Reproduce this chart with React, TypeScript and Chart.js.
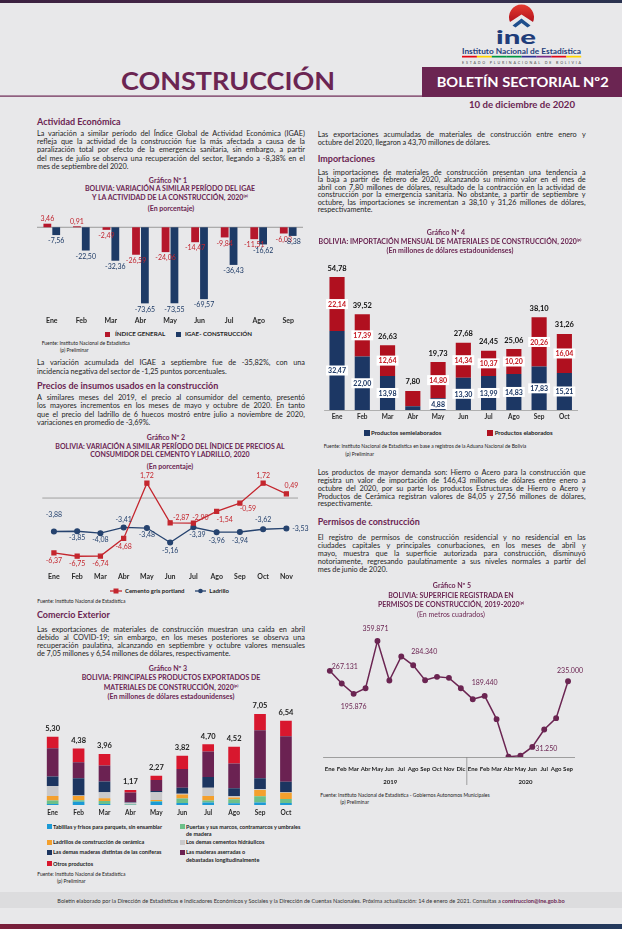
import React, { useEffect, useRef } from 'react';
import { Chart, registerables } from 'chart.js';

Chart.register(...registerables);

const FONT = 'Lato, "Open Sans", "DejaVu Sans", sans-serif';
Chart.defaults.font.family = FONT;

const PURPLE = '#6b2552';
const TEXT = '#1e1e1e';

// ---------------- DATA ----------------
// Gráfico 1
const igaeMonths = ['Ene', 'Feb', 'Mar', 'Abr', 'May', 'Jun', 'Jul', 'Ago', 'Sep'];
const indiceGeneral = [3.46, 0.91, -2.49, -26.59, -24.06, -14.47, -9.84, -11.51, -6.03];
const igaeConstruccion = [-7.56, -22.5, -32.36, -73.65, -73.55, -69.57, -36.43, -16.62, -8.38];

// Gráfico 2
const precioMonths = ['Ene', 'Feb', 'Mar', 'Abr', 'May', 'Jun', 'Jul', 'Ago', 'Sep', 'Oct', 'Nov'];
const cemento = [-6.37, -6.75, -6.74, -4.68, 1.72, -2.87, -2.9, -1.54, -0.59, 1.72, 0.49];
const ladrillo = [-3.88, -3.85, -4.08, -3.41, -3.48, -5.16, -3.39, -3.96, -3.94, -3.62, -3.53];

// Gráfico 3
const expMonths = ['Ene', 'Feb', 'Mar', 'Abr', 'May', 'Jun', 'Jul', 'Ago', 'Sep', 'Oct'];
const expTablillas = [0.08, 0.26, 0.08, 0.02, 0.26, 0.15, 0.2, 0.13, 0.2, 0.15];
const expPuertas = [0.26, 0.1, 0.23, 0.03, 0.05, 0.36, 0.15, 0.31, 0.47, 0.31];
const expLadrillos = [0.36, 0.34, 0.21, 0.02, 0.08, 0.31, 0.34, 0.15, 0.49, 0.49];
const expCementos = [0.78, 0.03, 0.47, 0.1, 0.6, 0.05, 0.65, 0.08, 0.08, 0.03];
const expMaderasDemas = [0.72, 1.35, 0.83, 0.05, 0.1, 0.47, 0.83, 0.62, 0.83, 0.83];
const expMaderasAserradas = [2.2, 1.24, 1.24, 0.75, 0.85, 1.45, 1.97, 1.92, 3.73, 3.51];
const expOtros = [0.9, 1.06, 0.9, 0.2, 0.33, 1.03, 0.56, 1.31, 1.25, 1.22];
const expTotals = [5.3, 4.38, 3.96, 1.17, 2.27, 3.82, 4.7, 4.52, 7.05, 6.54];

// Gráfico 4
const impMonths = ['Ene', 'Feb', 'Mar', 'Abr', 'May', 'Jun', 'Jul', 'Ago', 'Sep', 'Oct'];
const impSemielaborados = [32.47, 22.0, 13.98, 1.5, 4.88, 13.3, 13.99, 14.83, 17.83, 15.21];
const impElaborados = [22.14, 17.39, 12.64, 6.3, 14.8, 14.34, 10.37, 10.2, 20.26, 16.04];
const impTotals = [54.78, 39.52, 26.63, 7.8, 19.73, 27.68, 24.45, 25.06, 38.1, 31.26];

// Gráfico 5
const permisoMonths = ['Ene', 'Feb', 'Mar', 'Abr', 'May', 'Jun', 'Jul', 'Ago', 'Sep', 'Oct', 'Nov', 'Dic',
  'Ene', 'Feb', 'Mar', 'Abr', 'May', 'Jun', 'Jul', 'Ago', 'Sep'];
const permisoYears = ['2019', '2020'];
const superficie = [267131, 228000, 195876, 213400, 359871, 237200, 311600, 284340, 238200, 248500, 245400, 213400,
  179300, 189440, 117400, 1000, 4000, 31250, 85300, 120500, 235000];
const superficieLabeled = [0, 2, 4, 7, 13, 17, 20];

// label placement (style, not data)
const cementoLabelOffset = [[0, 8], [0, 8], [0, 8], [0, 8], [0, -7], [11, -5], [7, -5], [8, 8], [8, 6], [0, -7], [5, -8]];
const ladrilloLabelOffset = [[0, -17], [0, 7], [0, 7], [0, -8], [0, 7], [0, 8], [4, 7], [0, 9], [0, 9], [0, -9], [14, 0]];
const superficieLabelOffset = [[15, -4], [0, 13], [-2, -12], [11, -14], [0, -13], [14, 2], [2, -10]];

// ---------------- TEXT ----------------
const para1 = [
  'La variación a similar período del Índice Global de Actividad Económica (IGAE)',
  'refleja que la actividad de la construcción fue la más afectada a causa de la',
  'paralización total por efecto de la emergencia sanitaria, sin embargo, a partir',
  'del mes de julio se observa una recuperación del sector, llegando a -8,38% en el',
  'mes de septiembre del 2020.',
];
const para2 = [
  'La variación acumulada del IGAE a septiembre fue de -35,82%, con una',
  'incidencia negativa del sector de -1,25 puntos porcentuales.',
];
const para3 = [
  'A similares meses del 2019, el precio al consumidor del cemento, presentó',
  'los mayores incrementos en los meses de mayo y octubre de 2020. En tanto',
  'que el precio del ladrillo de 6 huecos mostró entre julio a noviembre de 2020,',
  'variaciones en promedio de -3,69%.',
];
const para4 = [
  'Las exportaciones de materiales de construcción muestran una caída en abril',
  'debido al COVID-19; sin embargo, en los meses posteriores se observa una',
  'recuperación paulatina, alcanzando en septiembre y octubre valores mensuales',
  'de 7,05 millones y 6,54 millones de dólares, respectivamente.',
];
const para5 = [
  'Las exportaciones acumuladas de materiales de construcción entre enero y',
  'octubre del 2020, llegaron a 43,70 millones de dólares.',
];
const para6 = [
  'Las importaciones de materiales de construcción presentan una tendencia a',
  'la baja a partir de febrero de 2020, alcanzando su mínimo valor en el mes de',
  'abril con 7,80 millones de dólares, resultado de la contracción en la actividad de',
  'construcción por la emergencia sanitaria. No obstante, a partir de septiembre y',
  'octubre, las importaciones se incrementan a 38,10 y 31,26 millones de dólares,',
  'respectivamente.',
];
const para7 = [
  'Los productos de mayor demanda son: Hierro o Acero para la construcción que',
  'registra un valor de importación de 146,43 millones de dólares entre enero a',
  'octubre del 2020, por su parte los productos Estructuras de Hierro o Acero y',
  'Productos de Cerámica registran valores de 84,05 y 27,56 millones de dólares,',
  'respectivamente.',
];
const para8 = [
  'El registro de permisos de construcción residencial y no residencial en las',
  'ciudades capitales y principales conurbaciones, en los meses de abril y',
  'mayo, muestra que la superficie autorizada para construcción, disminuyó',
  'notoriamente, regresando paulatinamente a sus niveles normales a partir del',
  'mes de junio de 2020.',
];

const fmt2 = (v: number) => v.toFixed(2).replace('.', ',');
const fmtK = (v: number) => String(Math.round(v)).replace(/\B(?=(\d{3})+(?!\d))/g, '.');

// ---------------- HELPERS ----------------
function Para({ x, y, w, lh, size = 7.3, lines }: any) {
  return (
    <>
      {lines.map((ln: string, i: number) => {
        const last = i === lines.length - 1;
        const words = ln.split(/\s+/);
        return (
          <div key={i} style={{
            position: 'absolute', left: x, top: y + i * lh - lh / 2, width: w, height: lh,
            lineHeight: lh + 'px', fontSize: size, color: TEXT, whiteSpace: 'nowrap', display: 'flex',
            justifyContent: last ? 'flex-start' : 'space-between', gap: last ? size * 0.22 : 0,
          }}>
            {words.map((wd, j) => <span key={j}>{wd}</span>)}
          </div>
        );
      })}
    </>
  );
}

function Heading({ x, y, text }: any) {
  return <div style={{ position: 'absolute', left: x, top: y - 6, height: 12, lineHeight: '12px', fontSize: 9, fontWeight: 700, color: PURPLE, whiteSpace: 'nowrap' }}>{text}</div>;
}

function CText({ cx, y, text, size = 7, weight = 700, color = PURPLE, sup }: any) {
  return (
    <div style={{ position: 'absolute', left: cx - 200, width: 400, top: y - 5, height: 10, lineHeight: '10px', textAlign: 'center', fontSize: size, fontWeight: weight, color, whiteSpace: 'nowrap' }}>
      {text}{sup ? <span style={{ fontSize: size * 0.6, verticalAlign: 'top', lineHeight: '7px' }}>{sup}</span> : null}
    </div>
  );
}

function LText({ x, y, text, size = 5, weight = 400, color = '#222' }: any) {
  return <div style={{ position: 'absolute', left: x, top: y - 4, height: 8, lineHeight: '8px', fontSize: size, fontWeight: weight, color, whiteSpace: 'nowrap' }}>{text}</div>;
}

function Swatch({ x, y, s = 5, color }: any) {
  return <div style={{ position: 'absolute', left: x, top: y - s / 2, width: s, height: s, background: color }} />;
}

function ChartBox({ left, top, width, height, make }: any) {
  const ref = useRef<HTMLCanvasElement>(null);
  useEffect(() => {
    const c = new Chart(ref.current as HTMLCanvasElement, make());
    return () => c.destroy();
  }, []);
  return <canvas ref={ref} width={width} height={height} style={{ position: 'absolute', left, top, width, height }} />;
}

// ---------------- CHART CONFIGS ----------------
const RED1 = '#b5172b';
const NAVY1 = '#1d3a66';

function chart1(): any {
  return {
    type: 'bar',
    data: {
      labels: igaeMonths,
      datasets: [
        { label: 'ÍNDICE GENERAL', data: indiceGeneral, backgroundColor: RED1, categoryPercentage: 0.6, barPercentage: 0.88 },
        { label: 'IGAE- CONSTRUCCIÓN', data: igaeConstruccion, backgroundColor: NAVY1, categoryPercentage: 0.6, barPercentage: 0.88 },
      ],
    },
    options: {
      animation: false, responsive: false,
      layout: { padding: { top: 10.1, left: 0, right: 2, bottom: 0 } },
      plugins: { legend: { display: false }, tooltip: { enabled: false } },
      scales: {
        x: {
          grid: { display: false, drawTicks: false }, border: { display: false },
          ticks: { font: { size: 7, weight: 'bold' }, color: '#2a2a2a', padding: 4.8, autoSkip: false, maxRotation: 0 },
          afterFit: (s: any) => { s.height = 16; },
        },
        y: { display: false, min: -82, max: 5 },
      },
    },
    plugins: [{
      id: 'c1',
      beforeDatasetsDraw(chart: any) {
        const { ctx, chartArea, scales } = chart;
        const y0 = scales.y.getPixelForValue(0);
        ctx.save(); ctx.strokeStyle = '#9a9a9a'; ctx.lineWidth = 1;
        ctx.beginPath(); ctx.moveTo(chartArea.left, y0); ctx.lineTo(chartArea.right, y0); ctx.stroke(); ctx.restore();
      },
      afterDatasetsDraw(chart: any) {
        const ctx = chart.ctx;
        ctx.save(); ctx.font = '7px ' + FONT; ctx.textAlign = 'center'; ctx.textBaseline = 'middle';
        chart.data.datasets.forEach((ds: any, di: number) => {
          ctx.fillStyle = di === 0 ? '#c0242f' : NAVY1;
          chart.getDatasetMeta(di).data.forEach((el: any, i: number) => {
            const v = ds.data[i];
            ctx.fillText(fmt2(v), el.x, v >= 0 ? el.y - 5 : el.y + 6);
          });
        });
        ctx.restore();
      },
    }],
  };
}

const RED2 = '#c4262e';
const NAVY2 = '#26436f';

function chart2(): any {
  return {
    type: 'line',
    data: {
      labels: precioMonths,
      datasets: [
        { label: 'Cemento gris portland', data: cemento, borderColor: RED2, backgroundColor: RED2, borderWidth: 1.3, pointStyle: 'rect', pointRadius: 2.8, tension: 0 },
        { label: 'Ladrillo', data: ladrillo, borderColor: NAVY2, backgroundColor: NAVY2, borderWidth: 1.3, pointStyle: 'circle', pointRadius: 2.4, tension: 0 },
      ],
    },
    options: {
      animation: false, responsive: false,
      layout: { padding: { top: 8.5, left: 0, right: 17, bottom: 0 } },
      plugins: { legend: { display: false }, tooltip: { enabled: false } },
      scales: {
        x: {
          offset: true,
          grid: { display: false, drawTicks: false }, border: { display: false },
          ticks: { font: { size: 7, weight: 'bold' }, color: '#2a2a2a', padding: 5.8, autoSkip: false, maxRotation: 0 },
          afterFit: (s: any) => { s.height = 16; },
        },
        y: { display: false, min: -8, max: 2.5 },
      },
    },
    plugins: [{
      id: 'c2',
      beforeDatasetsDraw(chart: any) {
        const { ctx, chartArea, scales } = chart;
        const y0 = scales.y.getPixelForValue(0);
        ctx.save(); ctx.strokeStyle = '#a0a0a0'; ctx.lineWidth = 1;
        ctx.beginPath(); ctx.moveTo(chartArea.left, y0); ctx.lineTo(chartArea.right, y0); ctx.stroke(); ctx.restore();
      },
      afterDatasetsDraw(chart: any) {
        const ctx = chart.ctx;
        ctx.save(); ctx.font = '7px ' + FONT; ctx.textAlign = 'center'; ctx.textBaseline = 'middle';
        const offs = [cementoLabelOffset, ladrilloLabelOffset];
        chart.data.datasets.forEach((ds: any, di: number) => {
          ctx.fillStyle = di === 0 ? RED2 : NAVY2;
          chart.getDatasetMeta(di).data.forEach((el: any, i: number) => {
            const o = offs[di][i];
            ctx.fillText(fmt2(ds.data[i]), el.x + o[0], el.y + o[1]);
          });
        });
        ctx.restore();
      },
    }],
  };
}

const EXP_COLORS = ['#1b9ad6', '#6cc08a', '#f4a02d', '#c9c9cb', '#1c3560', '#6b2252', '#d8172e'];
const EXP_NAMES = [
  'Tablillas y frisos para parquets, sin ensamblar',
  'Puertas y sus marcos, contramarcos y umbrales de madera',
  'Ladrillos de construcción de cerámica',
  'Los demas cementos hidráulicos',
  'Las demas maderas distintas de las coníferas',
  'Las maderas aserradas o debastadas longitudinalmente',
  'Otros productos',
];

function chart3(): any {
  const series = [expTablillas, expPuertas, expLadrillos, expCementos, expMaderasDemas, expMaderasAserradas, expOtros];
  return {
    type: 'bar',
    data: {
      labels: expMonths,
      datasets: series.map((d, i) => ({ label: EXP_NAMES[i], data: d, backgroundColor: EXP_COLORS[i], categoryPercentage: 1, barPercentage: 0.45 })),
    },
    options: {
      animation: false, responsive: false,
      layout: { padding: { top: 5.8, left: 2.7, right: 6.1, bottom: 0 } },
      plugins: { legend: { display: false }, tooltip: { enabled: false } },
      scales: {
        x: {
          stacked: true,
          grid: { display: false, drawTicks: false }, border: { display: false },
          ticks: { font: { size: 6.5, weight: 'bold' }, color: '#2a2a2a', padding: 4.4, autoSkip: false, maxRotation: 0 },
          afterFit: (s: any) => { s.height = 14; },
        },
        y: { stacked: true, display: false, min: 0, max: 8 },
      },
    },
    plugins: [{
      id: 'c3',
      afterDatasetsDraw(chart: any) {
        const ctx = chart.ctx;
        const meta = chart.getDatasetMeta(0);
        ctx.save(); ctx.font = 'bold 7.5px ' + FONT; ctx.textAlign = 'center'; ctx.textBaseline = 'middle'; ctx.fillStyle = '#222';
        expTotals.forEach((t, i) => {
          ctx.fillText(fmt2(t), meta.data[i].x, chart.scales.y.getPixelForValue(t) - 8);
        });
        ctx.restore();
      },
    }],
  };
}

const RED4 = '#b0101f';
const NAVY4 = '#1c3764';

function chart4(): any {
  return {
    type: 'bar',
    data: {
      labels: impMonths,
      datasets: [
        { label: 'Productos semielaborados', data: impSemielaborados, backgroundColor: NAVY4, categoryPercentage: 1, barPercentage: 0.6 },
        { label: 'Productos elaborados', data: impElaborados, backgroundColor: RED4, categoryPercentage: 1, barPercentage: 0.6 },
      ],
    },
    options: {
      animation: false, responsive: false,
      layout: { padding: { top: 8, left: 6.4, right: 5, bottom: 0 } },
      plugins: { legend: { display: false }, tooltip: { enabled: false } },
      scales: {
        x: {
          stacked: true,
          grid: { display: false, drawTicks: false }, border: { display: true, color: '#a0a0a0', width: 0.8 },
          ticks: { font: { size: 6.5, weight: 'bold' }, color: '#2a2a2a', padding: 3.4, autoSkip: false, maxRotation: 0 },
          afterFit: (s: any) => { s.height = 14; },
        },
        y: { stacked: true, display: false, min: 0, max: 60 },
      },
    },
    plugins: [{
      id: 'c4',
      afterDatasetsDraw(chart: any) {
        const ctx = chart.ctx;
        ctx.save(); ctx.textAlign = 'center'; ctx.textBaseline = 'middle';
        ctx.font = 'bold 7px ' + FONT;
        chart.data.datasets.forEach((ds: any, di: number) => {
          chart.getDatasetMeta(di).data.forEach((el: any, i: number) => {
            if (impTotals[i] < 10) return;
            const txt = fmt2(ds.data[i]);
            const w = ctx.measureText(txt).width;
            const cy = (el.y + el.base) / 2;
            ctx.fillStyle = '#ffffff';
            ctx.fillRect(el.x - w / 2 - 2, cy - 5, w + 4, 10);
            ctx.fillStyle = di === 0 ? NAVY4 : '#c4161f';
            ctx.fillText(txt, el.x, cy + 0.5);
          });
        });
        const meta = chart.getDatasetMeta(0);
        ctx.font = 'bold 7.5px ' + FONT; ctx.fillStyle = '#111';
        impTotals.forEach((t, i) => {
          const top = chart.scales.y.getPixelForValue(impSemielaborados[i] + impElaborados[i]);
          ctx.fillText(fmt2(t), meta.data[i].x, top - 9);
        });
        ctx.restore();
      },
    }],
  };
}

function chart5(): any {
  return {
    type: 'line',
    data: {
      labels: permisoMonths,
      datasets: [{ label: 'Superficie', data: superficie, borderColor: PURPLE, backgroundColor: PURPLE, borderWidth: 1.5, pointRadius: 2.2, tension: 0 }],
    },
    options: {
      animation: false, responsive: false,
      layout: { padding: { top: 8, left: 3, right: 14, bottom: 0 } },
      plugins: { legend: { display: false }, tooltip: { enabled: false } },
      scales: {
        x: {
          offset: true,
          grid: { display: false, drawTicks: false }, border: { display: true, color: '#8a8a8a', width: 0.8 },
          ticks: { font: { size: 6, weight: 'bold' }, color: '#222', padding: 8.7, autoSkip: false, maxRotation: 0 },
          afterFit: (s: any) => { s.height = 30; },
        },
        y: { display: false, min: 0, max: 400000 },
      },
    },
    plugins: [{
      id: 'c5',
      afterDatasetsDraw(chart: any) {
        const ctx = chart.ctx;
        const meta = chart.getDatasetMeta(0);
        const area = chart.chartArea;
        ctx.save();
        ctx.font = '7px ' + FONT; ctx.fillStyle = PURPLE; ctx.textAlign = 'center'; ctx.textBaseline = 'middle';
        superficieLabeled.forEach((idx, k) => {
          const el = meta.data[idx];
          const o = superficieLabelOffset[k];
          ctx.fillText(fmtK(superficie[idx]), el.x + o[0], el.y + o[1]);
        });
        const xs = meta.data.map((e: any) => e.x);
        const xd = (xs[11] + xs[12]) / 2;
        ctx.strokeStyle = '#8a8a8a'; ctx.lineWidth = 0.8;
        ctx.beginPath(); ctx.moveTo(xd, area.bottom); ctx.lineTo(xd, area.bottom + 28); ctx.stroke();
        ctx.font = 'bold 6px ' + FONT; ctx.fillStyle = '#222';
        ctx.fillText(permisoYears[0], (xs[0] + xs[11]) / 2 - 5, area.bottom + 24.7);
        ctx.fillText(permisoYears[1], (xs[12] + xs[20]) / 2 + 5, area.bottom + 24.7);
        ctx.restore();
      },
    }],
  };
}

// ---------------- APP ----------------
export default function App() {
  const stripe = ['#e30613', '#ffd400', '#009640', '#009640', '#2e3192', '#7b2b83', '#e30613', '#ffd400'];
  return (
    <div style={{ position: 'absolute', left: 0, top: 0, width: 622, height: 929, background: '#e8e8ea', overflow: 'hidden', fontFamily: FONT, color: TEXT }}>
      <div style={{ position: 'absolute', left: 0, top: 0, width: 622, height: 3, background: 'linear-gradient(90deg, #3b2140, #4a2a4c 50%, #2a3350)' }} />
      <svg width={622} height={115} style={{ position: 'absolute', left: 0, top: 0 }}>
        <defs>
          <linearGradient id="domeG" x1="0" y1="0" x2="0" y2="1">
            <stop offset="0" stopColor="#e43a30" />
            <stop offset="1" stopColor="#b3121c" />
          </linearGradient>
        </defs>
        <path d="M510 22 A12.5 12.5 0 1 1 533 22 L521.5 14.5 Z" fill="url(#domeG)" />
        <polygon points="512.5,25.5 521.5,18.5 530.5,25.5 527.5,27.5 521.5,23 515.5,27.5" fill="#1f4e8c" />
        <text x={516} y={44} fontSize={19} fontWeight={900} fill="#1f3d7a" textAnchor="middle" textLength={40} lengthAdjust="spacingAndGlyphs" fontFamily={FONT}>ine</text>
        <text x={521.5} y={54.3} fontSize={7.6} fontWeight={700} fill="#1f3d7a" textAnchor="middle" textLength={119} lengthAdjust="spacingAndGlyphs" fontFamily={FONT}>Instituto Nacional de Estadística</text>
        {stripe.map((c, i) => <rect key={i} x={462 + i * 14.9} y={55.8} width={14.9} height={1.7} fill={c} />)}
        <text x={521.5} y={63.6} fontSize={3.6} fill="#444" textAnchor="middle" textLength={119} lengthAdjust="spacing" fontFamily={FONT}>ESTADO PLURINACIONAL DE BOLIVIA</text>
        <text x={228} y={89.5} fontSize={24} fontWeight={700} fill={PURPLE} textAnchor="middle" textLength={214} lengthAdjust="spacingAndGlyphs" fontFamily={FONT}>CONSTRUCCIÓN</text>
        <rect x={422} y={67} width={200} height={30} fill={PURPLE} />
        <text x={522.7} y={87.3} fontSize={14} fontWeight={700} fill="#ffffff" textAnchor="middle" textLength={172} lengthAdjust="spacingAndGlyphs" fontFamily={FONT}>BOLETÍN SECTORIAL Nº2</text>
        <rect x={0} y={95.5} width={422} height={1.2} fill={PURPLE} />
        <text x={522} y={108} fontSize={9} fontWeight={700} fill={PURPLE} textAnchor="middle" textLength={106} lengthAdjust="spacingAndGlyphs" fontFamily={FONT}>10 de diciembre de 2020</text>
      </svg>

      {/* LEFT COLUMN */}
      <Heading x={37} y={121.5} text="Actividad Económica" />
      <Para x={37} y={134} w={268} lh={8.33} lines={para1} />
      <CText cx={168} y={179.5} text="Gráfico Nº 1" />
      <CText cx={170} y={188} text="BOLIVIA: VARIACIÓN A SIMILAR PERÍODO DEL IGAE" />
      <CText cx={170} y={197} text="Y LA ACTIVIDAD DE LA CONSTRUCCIÓN, 2020" sup="(p)" />
      <CText cx={171} y={207.5} text="(En porcentaje)" />
      <ChartBox left={37} top={212} width={268} height={116} make={chart1} />
      <Swatch x={105} y={334.3} color={RED1} />
      <LText x={115} y={334.3} text="ÍNDICE GENERAL" size={6.2} weight={700} />
      <Swatch x={176} y={334.3} color={NAVY1} />
      <LText x={185} y={334.3} text="IGAE- CONSTRUCCIÓN" size={6.2} weight={700} />
      <LText x={41.7} y={343.3} text="Fuente: Instituto Nacional de Estadística" />
      <LText x={60} y={350} text="(p) Preliminar" />

      <Para x={37} y={363.3} w={268} lh={8.4} lines={para2} />
      <Heading x={37} y={385.7} text="Precios de insumos usados en la construcción" />
      <Para x={37} y={398.3} w={268} lh={8.33} lines={para3} />
      <CText cx={166} y={437} text="Gráfico Nº 2" />
      <CText cx={170} y={445.7} text="BOLIVIA: VARIACIÓN A SIMILAR PERÍODO DEL ÍNDICE DE PRECIOS AL" />
      <CText cx={170} y={454.3} text="CONSUMIDOR DEL CEMENTO Y LADRILLO, 2020" />
      <CText cx={170} y={466} text="(En porcentaje)" />
      <ChartBox left={37} top={468} width={278} height={115} make={chart2} />
      <svg width={120} height={10} style={{ position: 'absolute', left: 108, top: 586 }}>
        <line x1={2} y1={5} x2={14} y2={5} stroke={RED2} strokeWidth={1.3} />
        <rect x={5.5} y={2.5} width={5} height={5} fill={RED2} />
        <line x1={87} y1={5} x2={98} y2={5} stroke={NAVY2} strokeWidth={1.3} />
        <circle cx={92.5} cy={5} r={2.3} fill={NAVY2} />
      </svg>
      <LText x={125} y={591} text="Cemento gris portland" size={6} weight={700} />
      <LText x={209.3} y={591} text="Ladrillo" size={6} weight={700} />
      <LText x={37.3} y={601} text="Fuente: Instituto Nacional de Estadística" />

      <Heading x={37} y={615} text="Comercio Exterior" />
      <Para x={37} y={630} w={268} lh={7.9} lines={para4} />
      <CText cx={168} y={667.7} text="Gráfico Nº 3" />
      <CText cx={171} y={677} text="BOLIVIA: PRINCIPALES PRODUCTOS EXPORTADOS DE" />
      <CText cx={171} y={686.7} text="MATERIALES DE CONSTRUCCIÓN, 2020" sup="(p)" />
      <CText cx={171} y={695.7} text="(En millones de dólares estadounidenses)" />
      <ChartBox left={37} top={696} width={268} height={123} make={chart3} />
      <Swatch x={46.7} y={826.7} color={EXP_COLORS[0]} />
      <LText x={53} y={826.7} text="Tablillas y frisos para  parquets, sin ensamblar" size={5.5} weight={700} />
      <Swatch x={180} y={826.7} color={EXP_COLORS[1]} />
      <LText x={186} y={826.7} text="Puertas y sus marcos, contramarcos y umbrales" size={5.5} weight={700} />
      <LText x={186} y={834.3} text="de madera" size={5.5} weight={700} />
      <Swatch x={46.7} y={842} color={EXP_COLORS[2]} />
      <LText x={53} y={842} text="Ladrillos de construcción  de cerámica" size={5.5} weight={700} />
      <Swatch x={180} y={842} color={EXP_COLORS[3]} />
      <LText x={186} y={842} text="Los demas cementos hidráulicos" size={5.5} weight={700} />
      <Swatch x={46.7} y={852.3} color={EXP_COLORS[4]} />
      <LText x={53} y={852.3} text="Las demas maderas distintas de las coníferas" size={5.5} weight={700} />
      <Swatch x={180} y={852.3} color={EXP_COLORS[5]} />
      <LText x={186} y={852.3} text="Las maderas aserradas o" size={5.5} weight={700} />
      <LText x={186} y={860} text="debastadas longitudinalmente" size={5.5} weight={700} />
      <Swatch x={46.7} y={863.7} color={EXP_COLORS[6]} />
      <LText x={53} y={863.7} text="Otros productos" size={5.5} weight={700} />
      <LText x={37.3} y={874.3} text="Fuente: Instituto Nacional de Estadística" />
      <LText x={57} y={881} text="(p) Preliminar" />

      {/* RIGHT COLUMN */}
      <Para x={317.7} y={135} w={268} lh={7.7} lines={para5} />
      <Heading x={317.7} y={159.3} text="Importaciones" />
      <Para x={317.7} y={172.3} w={268} lh={7.55} lines={para6} />
      <CText cx={446} y={231.7} text="Gráfico Nº 4" />
      <CText cx={450} y={240.5} text="BOLIVIA: IMPORTACIÓN MENSUAL DE MATERIALES DE CONSTRUCCIÓN, 2020" sup="(p)" />
      <CText cx={450} y={250} text="(En millones de dólares estadounidenses)" />
      <ChartBox left={318} top={256} width={264} height={168} make={chart4} />
      <Swatch x={363.7} y={433.3} s={6} color={NAVY4} />
      <LText x={371} y={433.3} text="Productos semielaborados" size={6} weight={700} />
      <Swatch x={486.7} y={433.3} s={6} color={RED4} />
      <LText x={494.7} y={433.3} text="Productos elaborados" size={6} weight={700} />
      <LText x={323.7} y={446} text="Fuente: Instituto Nacional de Estadística en base a registros de la Aduana Nacional de Bolivia" />
      <LText x={345.3} y={454} text="(p) Preliminar" />

      <Para x={317.7} y={473.3} w={268} lh={7.7} lines={para7} />
      <Heading x={317.7} y={521.7} text="Permisos de construcción" />
      <Para x={317.7} y={538.3} w={268} lh={7.9} lines={para8} />
      <CText cx={452} y={585} text="Gráfico Nº 5" />
      <CText cx={451} y={595} text="BOLIVIA: SUPERFICIE REGISTRADA EN" />
      <CText cx={451} y={604.3} text="PERMISOS DE CONSTRUCCIÓN, 2019-2020" sup="(p)" />
      <CText cx={451} y={614.3} text="(En metros cuadrados)" weight={400} />
      <ChartBox left={316} top={620} width={272} height={167} make={chart5} />
      <LText x={320.3} y={795} text="Fuente: Instituto Nacional de Estadística - Gobiernos Autonomos Municipales" />
      <LText x={340.3} y={801.7} text="(p) Preliminar" />

      {/* FOOTER */}
      <div style={{ position: 'absolute', left: 0, top: 892, width: 622, height: 16, background: '#dcdcde' }} />
      <div style={{ position: 'absolute', left: 0, top: 896, width: 622, height: 9, lineHeight: '9px', textAlign: 'center', fontSize: 5.6, color: '#333', whiteSpace: 'nowrap' }}>
        Boletín elaborado por la Dirección de Estadísticas e Indicadores Económicos y Sociales y la Dirección de Cuentas Nacionales. Próxima actualización: 14 de enero de 2021. Consultas a <span style={{ color: PURPLE, fontWeight: 700 }}>construccion@ine.gob.bo</span>
      </div>
      <div style={{ position: 'absolute', left: 0, top: 924, width: 622, height: 5, background: 'linear-gradient(90deg, #7a1f3a, #4a1f45 40%, #1e2a4a 70%, #243a5e)' }} />
    </div>
  );
}
